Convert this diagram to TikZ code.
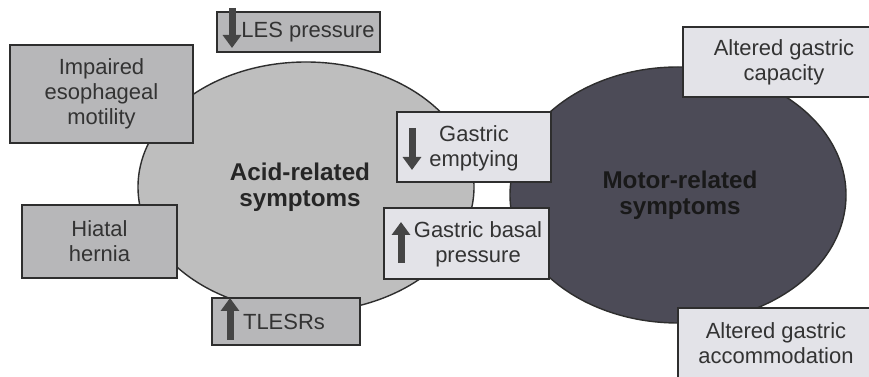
\documentclass[tikz,border=0pt]{standalone}
\usepackage{fontspec}
\setmainfont{Liberation Sans}
\usetikzlibrary{arrows.meta, positioning, shapes.geometric}
\definecolor{acidgray}{HTML}{BEBEBE}
\definecolor{boxgray}{HTML}{B7B7B9}
\definecolor{palegray}{HTML}{E3E3E8}
\definecolor{motordark}{HTML}{4C4B57}
\definecolor{edgegray}{HTML}{2E2E2E}
\definecolor{arrowgray}{HTML}{454545}
\definecolor{txtgray}{HTML}{333333}

\begin{document}
\begin{tikzpicture}[x=0.02cm, y=-0.02cm,
    factor/.style={draw=edgegray, line width=1.1pt, inner sep=0pt, align=center,
                   text=txtgray, font=\fontsize{12.5pt}{14.2pt}\selectfont},
    darkbox/.style={factor, fill=boxgray},
    lightbox/.style={factor, fill=palegray},
    blob/.style={ellipse, draw=edgegray, line width=0.8pt, inner sep=0pt},
    blobtext/.style={align=center, font=\fontsize{13.8pt}{14.8pt}\selectfont\bfseries},
    fact/.style={align=center, text=txtgray, font=\fontsize{12.5pt}{14.2pt}\selectfont},
    bigarrow/.style={arrowgray, line width=0.14cm, -{Triangle[width=0.36cm, length=0.26cm]}}
  ]
    \clip (0,0) rectangle (869,377);
    \fill[white] (0,0) rectangle (869,377);

    % Two symptom groups
    \node[blob, fill=acidgray, minimum width=336*0.02cm, minimum height=250*0.02cm] (acid) at (306,187) {};
    \node[blob, fill=motordark, minimum width=336*0.02cm, minimum height=256*0.02cm] (motor) at (678,195) {};
    \node[blobtext, text=black!85] (acidtxt) at (300,187) {Acid-related\\symptoms};
    \node[blobtext, text=black!90] (motortxt) at (680,195) {Motor-related\\symptoms};

    % Left factors
    \node[darkbox, minimum width=163*0.02cm, minimum height=40*0.02cm] (les) at (298.5,32) {};
    \node[fact] (lestxt) at (308,32) {LES pressure};
    \node[darkbox, minimum width=183*0.02cm, minimum height=98*0.02cm] (motility) at (101.5,94)
      {Impaired\\esophageal\\motility};
    \node[darkbox, minimum width=155*0.02cm, minimum height=73*0.02cm] (hernia) at (99.5,241.5)
      {Hiatal\\hernia};
    \node[darkbox, minimum width=148*0.02cm, minimum height=47*0.02cm] (tlesr) at (286,321.5) {};
    \node[fact] (tlesrtxt) at (284,321.5) {TLESRs};

    % Gastric factors
    \node[lightbox, minimum width=154*0.02cm, minimum height=70*0.02cm] (empty) at (474,147) {};
    \node[fact] (emptytxt) at (474,148) {Gastric\\emptying};
    \node[lightbox, minimum width=165*0.02cm, minimum height=71*0.02cm] (basal) at (466.5,243.5) {};
    \node[fact] (basaltxt) at (478,244) {Gastric basal\\pressure};
    \node[lightbox, minimum width=202*0.02cm, minimum height=70*0.02cm] (capacity) at (784,62)
      {Altered gastric\\capacity};
    \node[lightbox, minimum width=196*0.02cm, minimum height=70*0.02cm] (accom) at (776,343)
      {Altered gastric\\accommodation};

    % Up / down markers
    \draw[bigarrow] (232,8) -- (232,48);
    \draw[bigarrow] (412,128) -- (412,170);
    \draw[bigarrow] (401,263) -- (401,222);
    \draw[bigarrow] (230,340) -- (230,298);
  \end{tikzpicture}
\end{document}
